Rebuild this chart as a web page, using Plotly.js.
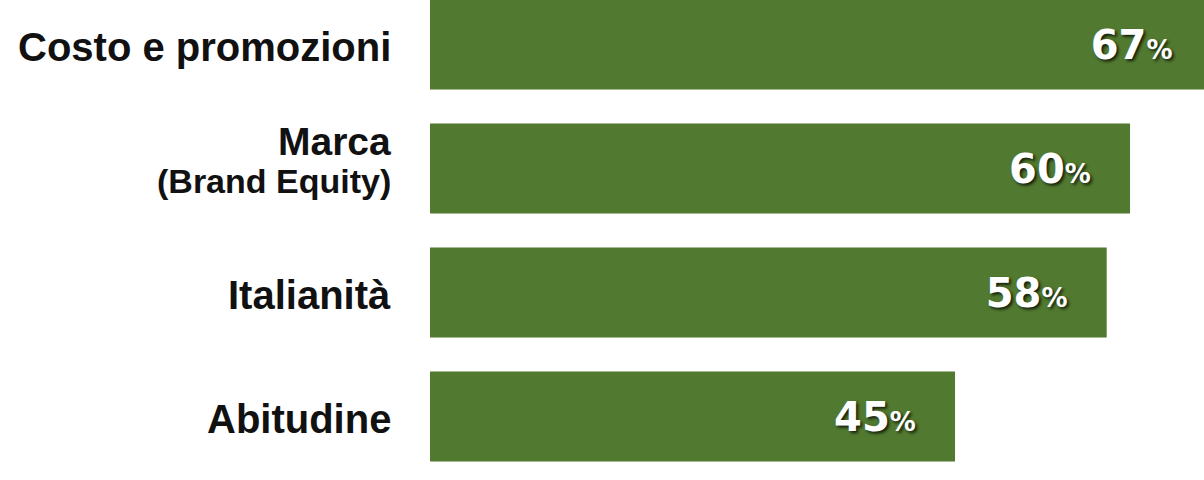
<!DOCTYPE html>
<html>
<head>
<meta charset="utf-8">
<script src="https://cdn.plot.ly/plotly-3.0.1.min.js"></script>
<style>
  html, body { margin: 0; padding: 0; background: #ffffff; }
  #chart { width: 1204px; height: 480px; }
</style>
</head>
<body>
<div id="chart"></div>
<script>
// ---- data ----
const categories = ['Costo e promozioni', 'Marca (Brand Equity)', 'Italianità', 'Abitudine'];
const values = [67, 60, 58, 45];
const valueSuffix = '%';

// ---- styles ----
const barColor = '#51792f';
const labelFont = 'Liberation Sans, Arial, Helvetica, sans-serif';
const valueFont = 'DejaVu Sans, Verdana, sans-serif';

const trace = {
  type: 'bar',
  orientation: 'h',
  y: categories,
  x: values,
  marker: { color: barColor, line: { width: 0 } },
  texttemplate: '%{x}<span style="font-size:26px">' + valueSuffix + '&nbsp;&nbsp;&nbsp;&nbsp;</span>',
  textposition: 'inside',
  insidetextanchor: 'end',
  constraintext: 'none',
  textfont: {
    family: valueFont,
    size: 40,
    color: '#ffffff',
    weight: 'bold',
    shadow: '2px 2px 3px rgba(0,0,0,0.75)'
  },
  hoverinfo: 'skip',
  cliponaxis: true
};

// category labels on the left, built from the categories array
const annotations = [];
categories.forEach(function (cat) {
  const m = cat.match(/^(.*?)\s*(\(.*\))$/);
  if (m) {
    annotations.push({
      xref: 'paper', yref: 'y', x: 0, y: cat, xanchor: 'right', yanchor: 'middle',
      xshift: -37, yshift: 27, showarrow: false, text: m[1],
      font: { family: labelFont, size: 39, color: '#111111', weight: 'bold' }
    });
    annotations.push({
      xref: 'paper', yref: 'y', x: 0, y: cat, xanchor: 'right', yanchor: 'middle',
      xshift: -37, yshift: -12, showarrow: false, text: m[2],
      font: { family: labelFont, size: 34, color: '#111111', weight: 'bold' }
    });
  } else {
    annotations.push({
      xref: 'paper', yref: 'y', x: 0, y: cat, xanchor: 'right', yanchor: 'middle',
      xshift: -37, yshift: -2, showarrow: false, text: cat,
      font: { family: labelFont, size: 40, color: '#111111', weight: 'bold' }
    });
  }
});

const layout = {
  width: 1204,
  height: 480,
  margin: { l: 430, r: 0, t: 0, b: 0, pad: 0 },
  paper_bgcolor: '#ffffff',
  plot_bgcolor: '#ffffff',
  showlegend: false,
  bargap: 0.274,
  xaxis: { range: [0, 66.34], visible: false, fixedrange: true },
  yaxis: {
    type: 'category',
    categoryorder: 'array',
    categoryarray: categories,
    range: [3.512, -0.359],
    visible: false,
    fixedrange: true
  },
  annotations: annotations
};

Plotly.newPlot('chart', [trace], layout, { displayModeBar: false, staticPlot: true });
</script>
</body>
</html>
